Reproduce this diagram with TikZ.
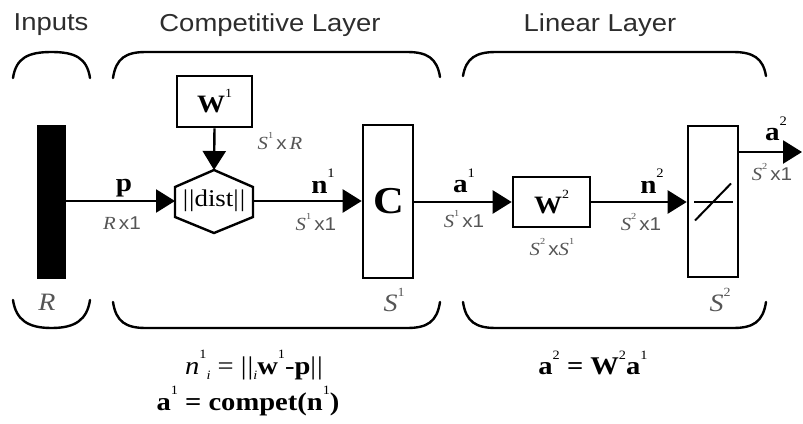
\documentclass[tikz,border=0pt]{standalone}
\usepackage{graphicx}
\usepackage{fontspec}
\setmainfont[FakeStretch=1.12]{Liberation Serif}
\setsansfont[FakeStretch=1.12]{Liberation Sans}
\usetikzlibrary{arrows.meta}
\definecolor{ttl}{RGB}{45,45,45}
\definecolor{dim}{RGB}{85,85,85}
\newcommand{\mysup}[1]{\raisebox{0.6em}{\scalebox{0.5}{\mdseries #1}}}
\newcommand{\mysub}[1]{\raisebox{-0.2em}{\scalebox{0.5}{\mdseries #1}}}
\newcommand{\dimS}[1]{\textit{S}\mysup{#1}}
\begin{document}
\begin{tikzpicture}[x=1pt,y=-1pt,
  box/.style={draw, line width=2.6pt, inner sep=0pt},
  sig/.style={line width=2.4pt, -{Triangle[length=19pt,width=23pt]}},
  brk/.style={line width=2.4pt, line cap=round},
  ttlf/.style={font=\sffamily\fontsize{24.5}{28}\selectfont, text=ttl},
  blab/.style={font=\bfseries\fontsize{26}{28}\selectfont, inner sep=0pt},
  dimf/.style={font=\fontsize{18.5}{20}\selectfont, text=dim, inner sep=0pt},
  botf/.style={font=\itshape\fontsize{25}{28}\selectfont, text=dim, inner sep=0pt},
  eqf/.style={font=\fontsize{25.5}{28}\selectfont, inner sep=0pt}]
\useasboundingbox (0,0) rectangle (803,423);

% titles
\node[ttlf] (tin) at (51,25) {Inputs};
\node[ttlf] (tcomp) at (270,25) {Competitive Layer};
\node[ttlf] (tlin) at (600,25) {Linear Layer};

% top brackets
\draw[brk] (13,78) .. controls (16,58) and (28,52) .. (51.5,52) .. controls (75,52) and (87,58) .. (90,78);
\draw[brk] (113,78) .. controls (116,58) and (126,52) .. (146,52) -- (407,52) .. controls (427,52) and (437,58) .. (440,77);
\draw[brk] (463,76) .. controls (466,58) and (476,52) .. (496,52) -- (733,52) .. controls (753,52) and (763,58) .. (766,76);
% bottom brackets
\draw[brk] (13,300) .. controls (16,320) and (28,328) .. (51.5,328) .. controls (75,328) and (87,320) .. (90,300);
\draw[brk] (113,302) .. controls (116,322) and (126,328) .. (146,328) -- (407,328) .. controls (427,328) and (437,322) .. (440,302);
\draw[brk] (463,302) .. controls (466,322) and (476,328) .. (496,328) -- (733,328) .. controls (753,328) and (763,322) .. (766,302);

% input bar
\node[fill=black, minimum width=29pt, minimum height=154pt, inner sep=0pt] (inp) at (51.5,202) {};

% W1 box
\node[box, minimum width=75pt, minimum height=51pt, font=\bfseries\fontsize{25}{28}\selectfont] (W1) at (214.5,101.5) {W\mysup{1}};

% hexagon ||dist||
\draw[line width=2.4pt, line join=miter] (214,170) -- (253,187) -- (253,217) -- (214,233) -- (175,217) -- (175,187) -- cycle;
\node[font=\fontsize{24}{28}\selectfont, inner sep=0pt] (dist) at (214,201) {|\kern1pt|dist|\kern1pt|};
\coordinate (hT) at (214,170);
\coordinate (hL) at (175,201);
\coordinate (hR) at (253,201);

% C box
\node[box, minimum width=50pt, minimum height=153pt] (C) at (388,201.5) {};
\node[font=\bfseries\fontsize{38}{40}\selectfont, inner sep=0pt] (Ct) at (389,201) {C};

% W2 box
\node[box, minimum width=77pt, minimum height=50pt, font=\bfseries\fontsize{25}{28}\selectfont] (W2) at (551.5,202) {W\mysup{2}};

% linear transfer box
\node[box, minimum width=50pt, minimum height=151pt] (lin) at (713,201.5) {};
\draw[line width=2pt] ([xshift=-19pt]lin.center) -- ([xshift=20pt]lin.center);
\draw[line width=2pt] ([shift={(-18,19)}]lin.center) -- ([shift={(18,-18)}]lin.center);

\coordinate (out) at (802,152);

% connectors
\draw[sig] (inp.east |- hL) -- (hL);
\draw[sig] (W1.south) -- (hT);
\draw[sig] (hR) -- (C.west |- hR);
\draw[sig] (C.east |- W2.west) -- (W2.west);
\draw[sig] (W2.east) -- (lin.west |- W2.east);
\draw[sig] (lin.east |- out) -- (out);

% signal labels
\node[blab] (lp) at (124,188) {p};
\node[blab] (ln1) at (323,181) {n\mysup{1}};
\node[blab] (la1) at (464,181) {a\mysup{1}};
\node[blab] (ln2) at (652,181) {n\mysup{2}};
\node[blab] (la2) at (776,129) {a\mysup{2}};

% dimension labels
\node[dimf] (dRx1) at (122,223) {\textit{R}\,\textsf{x1}};
\node[dimf] (dS1xR) at (280,141) {\dimS{1}\,\textsf{x}\,\textit{R}};
\node[dimf] (dS1x1a) at (316,222) {\dimS{1}\,\textsf{x1}};
\node[dimf] (dS1x1b) at (464,219) {\dimS{1}\,\textsf{x1}};
\node[dimf] (dS2xS1) at (552,247) {\dimS{2}\,\textsf{x}\dimS{1}};
\node[dimf] (dS2x1a) at (641,222) {\dimS{2}\,\textsf{x1}};
\node[dimf] (dS2x1b) at (772,172) {\dimS{2}\,\textsf{x1}};

% bottom size labels
\node[botf] (bR) at (47,302) {R};
\node[botf] (bS1) at (394,300) {S\mysup{\upshape 1}};
\node[botf] (bS2) at (720,300) {S\mysup{\upshape 2}};

% equations
\node[eqf] (eq1) at (254,365) {\textit{n}\mysup{1}\mysub{\textit{i}} = |\kern1pt|\mysub{\textit{i}}\textbf{w}\mysup{1}-\textbf{p}|\kern1pt|};
\node[eqf, font=\bfseries\fontsize{25.5}{28}\selectfont] (eq2) at (248,401) {a\mysup{1} = compet(n\mysup{1})};
\node[eqf, font=\bfseries\fontsize{25.5}{28}\selectfont] (eq3) at (593,363) {a\mysup{2} = W\mysup{2}a\mysup{1}};
\end{tikzpicture}
\end{document}
